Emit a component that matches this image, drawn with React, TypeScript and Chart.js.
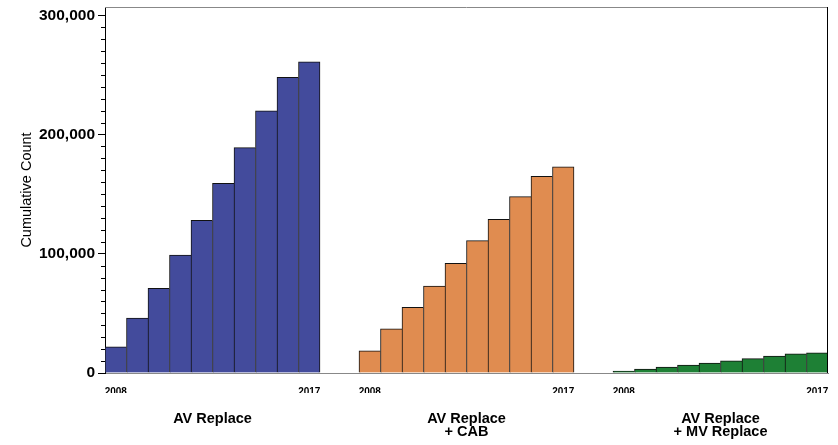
import React, { useEffect, useRef } from 'react';
import { Chart, registerables } from 'chart.js';

Chart.register(...registerables);

// ---- data ----
const years = ['2008', '2009', '2010', '2011', '2012', '2013', '2014', '2015', '2016', '2017'];
const groupLabels = [['AV Replace'], ['AV Replace', '+ CAB'], ['AV Replace', '+ MV Replace']];
const avReplace = [22000, 46000, 71000, 99000, 128000, 159000, 189000, 220000, 248000, 261000];
const avReplaceCab = [18500, 37000, 55000, 73000, 92000, 111000, 129000, 148000, 165000, 173000];
const avReplaceMvReplace = [1700, 3200, 5000, 6700, 8400, 10200, 12000, 14200, 16000, 17000];
const yTickValues = [0, 100000, 200000, 300000];
const yMax = 307000;
const yMinorStep = 10000;
const seriesColors = ['#434B9C', '#E08C50', '#1E8035'];

const series = [avReplace, avReplaceCab, avReplaceMvReplace];

// layout helpers (not data)
const GAP = 1.814;
const STRIDE = years.length + GAP;
const xPos = (g: number, i: number) => g * STRIDE + i;
const xMin = -0.5;
const xMax = xPos(series.length - 1, years.length - 1) + 0.5;
const yearTicks: { value: number; label: string }[] = [];
series.forEach((_, g) => {
  yearTicks.push({ value: xPos(g, 0), label: years[0] });
  yearTicks.push({ value: xPos(g, years.length - 1), label: years[years.length - 1] });
});
const groupCenters = series.map((_, g) => xPos(g, (years.length - 1) / 2));

const zeroPad = (s: any) => {
  s.paddingLeft = 0;
  s.paddingRight = 0;
  s.paddingTop = 0;
  s.paddingBottom = 0;
};

const framePlugin = {
  id: 'frame',
  afterDraw(chart: any) {
    const { ctx, chartArea } = chart;
    const { left, right, top, bottom } = chartArea;
    const y = chart.scales.y;
    ctx.save();
    ctx.lineWidth = 1;
    ctx.strokeStyle = '#000';
    for (let v = yMinorStep; v <= yMax; v += yMinorStep) {
      if (yTickValues.includes(v)) continue;
      const py = Math.round(y.getPixelForValue(v)) + 0.5;
      ctx.beginPath();
      ctx.moveTo(left - 4, py);
      ctx.lineTo(left, py);
      ctx.stroke();
    }
    ctx.strokeStyle = '#888';
    ctx.beginPath();
    ctx.moveTo(left, Math.round(top) + 0.5);
    ctx.lineTo(right, Math.round(top) + 0.5);
    ctx.stroke();
    ctx.strokeStyle = '#000';
    ctx.beginPath();
    ctx.moveTo(Math.round(right) - 0.5, top);
    ctx.lineTo(Math.round(right) - 0.5, bottom);
    ctx.stroke();
    ctx.restore();
  },
};

export default function App() {
  const canvasRef = useRef<HTMLCanvasElement | null>(null);

  useEffect(() => {
    const canvas = canvasRef.current;
    if (!canvas) return;
    Chart.defaults.font.family = "'Liberation Sans', Arial, sans-serif";

    const chart = new Chart(canvas, {
      type: 'bar',
      data: {
        datasets: series.map((vals, g) => ({
          label: groupLabels[g].join(' '),
          data: vals.map((v, i) => ({ x: xPos(g, i), y: v })),
          backgroundColor: seriesColors[g],
          borderColor: '#111',
          borderWidth: (ctx: any) => ({
            left: 1,
            top: 1,
            right: ctx.dataIndex === years.length - 1 ? 1 : 0,
            bottom: 0,
          }),
          borderSkipped: false,
          barPercentage: 1,
          categoryPercentage: 1,
          grouped: false,
        })),
      },
      options: {
        responsive: false,
        animation: false,
        layout: { padding: { left: 0, right: 10, top: 7, bottom: 0 } },
        plugins: { legend: { display: false }, tooltip: { enabled: false } },
        scales: {
          x: {
            type: 'linear',
            position: 'bottom',
            weight: 0,
            min: xMin,
            max: xMax,
            offset: false,
            grid: { display: false, drawTicks: false },
            border: { display: true, color: '#888', width: 1 },
            afterBuildTicks: (s: any) => {
              s.ticks = yearTicks.map((t) => ({ value: t.value }));
            },
            ticks: {
              autoSkip: false,
              maxRotation: 0,
              padding: 13,
              color: '#000',
              font: { size: 10, weight: 'bold' },
              callback: (_v: any, i: number) => yearTicks[i]?.label ?? '',
            },
            afterFit: (s: any) => {
              s.height = 20;
              zeroPad(s);
            },
          },
          x2: {
            type: 'linear',
            position: 'bottom',
            weight: 1,
            min: xMin,
            max: xMax,
            offset: false,
            grid: { display: false, drawTicks: false },
            border: { display: false },
            afterBuildTicks: (s: any) => {
              s.ticks = groupCenters.map((v) => ({ value: v }));
            },
            ticks: {
              autoSkip: false,
              maxRotation: 0,
              padding: 20,
              color: '#000',
              font: { size: 14.5, weight: 'bold', lineHeight: 0.86 },
              callback: (_v: any, i: number) => groupLabels[i] ?? '',
            },
            afterFit: (s: any) => {
              s.height = 52;
              zeroPad(s);
            },
          },
          y: {
            type: 'linear',
            min: 0,
            max: yMax,
            afterBuildTicks: (s: any) => {
              s.ticks = yTickValues.map((v) => ({ value: v }));
            },
            grid: {
              display: true,
              drawOnChartArea: false,
              drawTicks: true,
              tickLength: 7,
              tickColor: '#000',
              color: '#000',
            },
            border: { display: true, color: '#000', width: 1 },
            ticks: {
              padding: 3,
              color: '#000',
              font: { size: 15.5, weight: 'bold' },
              callback: (v: any) => Number(v).toLocaleString('en-US'),
            },
            title: {
              display: true,
              text: 'Cumulative Count',
              color: '#000',
              font: { size: 14.5 },
              padding: { top: 18, bottom: 0 },
            },
            afterFit: (s: any) => {
              s.width = 105;
              zeroPad(s);
            },
          },
        },
      } as any,
      plugins: [framePlugin],
    });
    return () => chart.destroy();
  }, []);

  return (
    <div style={{ position: 'absolute', left: 0, top: 0, width: 838, height: 445 }}>
      <canvas ref={canvasRef} width={838} height={445} style={{ display: 'block' }} />
    </div>
  );
}
